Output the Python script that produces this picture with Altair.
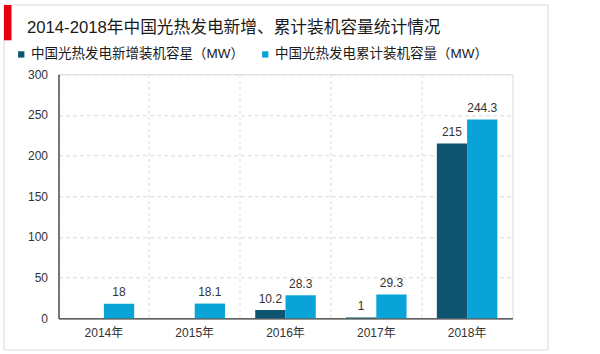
import altair as alt
import pandas as pd

years = ["2014年", "2015年", "2016年", "2017年", "2018年"]
new_cap = [None, None, 10.2, 1, 215]
cum_cap = [18, 18.1, 28.3, 29.3, 244.3]
series = ["中国光热发电新增装机容星（MW）", "中国光热发电累计装机容量（MW）"]
colors = ["#0E5470", "#0AA3D8"]
title_text = "2014-2018年中国光热发电新增、累计装机容量统计情况"
y_ticks = [0, 50, 100, 150, 200, 250, 300]

FONT = "Liberation Sans, Arial, Noto Sans CJK SC"

rows = []
for yr, n, c in zip(years, new_cap, cum_cap):
    if n is not None:
        rows.append({"year": yr, "series": series[0], "value": n, "label": f"{n:g}"})
    rows.append({"year": yr, "series": series[1], "value": c, "label": f"{c:g}"})
df = pd.DataFrame(rows)

dummy = pd.DataFrame({"a": [0]})

frame = alt.Chart(dummy).mark_rect(fillOpacity=0, stroke="#D9D9D9", strokeWidth=1).encode(
    x=alt.value(-54.5), x2=alt.value(489.5), y=alt.value(-69.3), y2=alt.value(275.7)
)
redbar = alt.Chart(dummy).mark_rect(fill="#E60012").encode(
    x=alt.value(-54.5), x2=alt.value(-47), y=alt.value(-69.3), y2=alt.value(-34)
)
title = alt.Chart(dummy).mark_text(
    align="left", baseline="middle", fontSize=16.7, font=FONT, color="#1a1a1a"
).encode(x=alt.value(-31.5), y=alt.value(-46), text=alt.value(title_text))

x_enc = alt.X(
    "year:N", sort=years, title=None,
    scale=alt.Scale(paddingInner=0, paddingOuter=0),
    axis=alt.Axis(labelAngle=0, ticks=False, grid=True, gridDash=[3, 3], gridColor="#D9D9D9",
                  bandPosition=0, domainColor="#3a3a3a", domainWidth=1.3,
                  labelFontSize=12, labelColor="#333333", labelFont=FONT, labelPadding=9),
)
xoff_enc = alt.XOffset("series:N", sort=series, scale=alt.Scale(paddingOuter=0.5, paddingInner=0))
y_enc = alt.Y(
    "value:Q", title=None, scale=alt.Scale(domain=[0, 300]),
    axis=alt.Axis(values=y_ticks, ticks=False, grid=True, gridDash=[4, 3], gridColor="#D9D9D9",
                  domainColor="#3a3a3a", domainWidth=1.3, labelFontSize=12, labelColor="#333333",
                  labelFont=FONT, labelPadding=11),
)

base = alt.Chart(df)
bars = base.mark_bar().encode(
    x=x_enc, xOffset=xoff_enc, y=y_enc,
    color=alt.Color("series:N", sort=series, scale=alt.Scale(domain=series, range=colors),
                    legend=alt.Legend(orient="none", legendX=-44, legendY=-27, direction="horizontal",
                                      title=None, symbolType="square", symbolSize=40,
                                      symbolStrokeWidth=0, labelFontSize=13.5, labelFont=FONT,
                                      labelColor="#1a1a1a", columnPadding=14, labelOffset=3,
                                      labelLimit=400)),
)
labels = base.mark_text(baseline="alphabetic", dy=-7.5, fontSize=12, font=FONT, color="#333333").encode(
    x=x_enc, xOffset=xoff_enc, y=y_enc, text="label:N"
)

chart = alt.layer(frame, redbar, title, bars, labels).properties(
    width=454, height=244,
    autosize=alt.AutoSizeParams(type="none"),
    padding={"left": 58.5, "top": 74.3, "right": 87.5, "bottom": 35.7},
).configure_view(stroke="#D9D9D9", strokeWidth=1)

chart.save("out.html", embed_options={"renderer": "svg", "actions": False})
